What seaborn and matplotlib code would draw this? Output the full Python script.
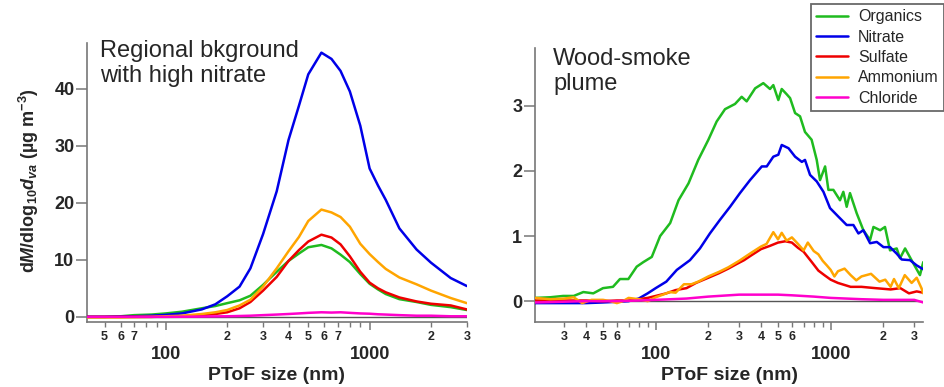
import numpy as np
import pandas as pd
import matplotlib
matplotlib.use("Agg")
import matplotlib.pyplot as plt
import matplotlib.ticker as mticker
import seaborn as sns

species = ["Organics", "Nitrate", "Sulfate", "Ammonium", "Chloride"]
colors = ["#1fbb1f", "#0000e8", "#ee0000", "#ffa500", "#ff00cc"]

# -------------------------------
# Regional background (left panel)
# -------------------------------
bk_size = [41, 50, 60, 70, 85, 100, 120, 150, 175, 200, 230, 260, 300, 350, 400,
           450, 500, 580, 650, 720, 800, 900, 1000, 1100, 1200, 1400, 1700, 2000, 2500, 3000]
bk_org = [0.0, 0.0, 0.1, 0.3, 0.4, 0.6, 0.9, 1.5, 1.9, 2.4, 2.9, 3.7, 5.6, 7.9, 9.8,
          11.1, 12.2, 12.6, 12.0, 10.9, 9.6, 7.5, 5.8, 4.8, 4.0, 3.1, 2.6, 2.1, 1.7, 1.2]
bk_no3 = [0.0, 0.0, 0.05, 0.1, 0.2, 0.35, 0.6, 1.3, 2.2, 3.6, 5.3, 8.5, 14.5, 22.0, 31.0,
          37.0, 42.5, 46.3, 45.2, 43.1, 39.5, 33.5, 26.0, 23.0, 20.5, 15.5, 11.8, 9.5, 6.8, 5.4]
bk_so4 = [0.0, 0.0, 0.0, 0.0, 0.0, 0.05, 0.1, 0.3, 0.5, 0.8, 1.5, 2.6, 4.6, 7.0, 9.8,
          11.7, 13.2, 14.4, 13.9, 12.7, 10.6, 7.9, 6.0, 5.0, 4.3, 3.4, 2.7, 2.3, 2.0, 1.3]
bk_nh4 = [-0.1, -0.1, -0.1, -0.05, 0.0, 0.1, 0.2, 0.5, 0.8, 1.2, 2.0, 3.0, 5.3, 8.5, 11.5,
          14.0, 16.8, 18.8, 18.3, 17.5, 15.8, 12.8, 11.0, 9.6, 8.4, 6.9, 5.7, 4.6, 3.3, 2.4]
bk_chl = [0.0, 0.0, 0.0, 0.0, 0.0, 0.0, 0.02, 0.05, 0.08, 0.1, 0.15, 0.2, 0.3, 0.4, 0.5,
          0.6, 0.7, 0.8, 0.75, 0.8, 0.7, 0.6, 0.55, 0.45, 0.4, 0.3, 0.2, 0.2, 0.1, 0.1]

# -------------------------------
# Wood-smoke plume (right panel)
# -------------------------------
ws_org_x = [20.5, 25, 29.6, 34, 38.6, 44, 50, 57, 62.5, 69.8, 77.9, 85, 95, 106, 121, 135, 154,
            175, 200, 223, 249, 284, 310, 331, 370, 412, 450, 470, 502, 525, 560, 586, 626, 668,
            713, 778, 832, 869, 929, 970, 1036, 1130, 1181, 1234, 1289, 1408, 1537, 1679, 1755,
            1916, 2043, 2183, 2383, 2490, 2661, 2967, 3236, 3380]
ws_org_y = [0.05, 0.06, 0.08, 0.08, 0.14, 0.12, 0.2, 0.22, 0.34, 0.34, 0.53, 0.6, 0.68, 1.0, 1.2,
            1.55, 1.81, 2.17, 2.48, 2.76, 2.95, 3.03, 3.14, 3.07, 3.27, 3.35, 3.26, 3.32, 3.09,
            3.26, 3.18, 3.12, 2.89, 2.84, 2.6, 2.48, 2.17, 1.86, 2.07, 1.71, 1.71, 1.55, 1.68,
            1.45, 1.66, 1.35, 1.09, 0.94, 1.14, 1.09, 1.14, 0.78, 0.81, 0.66, 0.81, 0.58, 0.4, 0.6]

ws_no3_x = [20.5, 30, 40, 50, 60, 70, 80, 90, 100, 115, 132, 157, 179, 204, 233, 266, 303, 346,
            404, 431, 470, 502, 525, 574, 626, 684, 713, 762, 832, 909, 991, 1105, 1234, 1348,
            1440, 1537, 1679, 1834, 2003, 2183, 2383, 2545, 2840, 3098, 3380]
ws_no3_y = [-0.03, -0.03, -0.03, -0.02, -0.01, 0.0, 0.04, 0.12, 0.2, 0.3, 0.48, 0.63, 0.81, 1.04,
            1.25, 1.45, 1.66, 1.86, 2.07, 2.07, 2.22, 2.25, 2.4, 2.35, 2.22, 2.14, 2.17, 1.94,
            1.84, 1.68, 1.43, 1.3, 1.17, 1.17, 1.04, 1.09, 0.89, 0.91, 0.83, 0.83, 0.73, 0.64,
            0.63, 0.55, 0.49]

ws_so4_x = [20.5, 30, 40, 50, 60, 70, 80, 90, 100, 115, 130, 150, 170, 200, 230, 260, 290, 320,
            350, 400, 450, 500, 550, 600, 650, 700, 780, 850, 920, 1000, 1100, 1300, 1500, 1800,
            2200, 2500, 2800, 3100, 3380]
ws_so4_y = [0.01, 0.01, 0.01, 0.0, 0.01, 0.01, 0.03, 0.05, 0.08, 0.12, 0.17, 0.2, 0.28, 0.36,
            0.43, 0.5, 0.57, 0.63, 0.7, 0.8, 0.85, 0.9, 0.92, 0.9, 0.82, 0.76, 0.6, 0.47, 0.4,
            0.33, 0.28, 0.22, 0.22, 0.2, 0.18, 0.2, 0.12, 0.15, 0.13]

ws_nh4_x = [20.5, 25, 30, 34, 38, 43, 50, 55, 60, 65, 70, 80, 90, 100, 110, 120, 130, 145, 160,
            175, 200, 230, 260, 300, 350, 400, 430, 470, 500, 525, 560, 600, 650, 700, 740, 800,
            850, 900, 950, 1000, 1050, 1100, 1200, 1300, 1400, 1500, 1700, 1900, 2050, 2200,
            2300, 2450, 2650, 2900, 3100, 3300, 3380]
ws_nh4_y = [0.05, 0.03, 0.04, 0.06, -0.03, 0.02, 0.02, 0.0, -0.03, 0.0, 0.05, 0.03, 0.0, 0.06,
            0.1, 0.14, 0.13, 0.26, 0.26, 0.3, 0.38, 0.45, 0.52, 0.62, 0.74, 0.84, 0.88, 1.06,
            0.95, 1.05, 0.93, 0.98, 0.88, 0.78, 0.9, 0.77, 0.72, 0.62, 0.55, 0.48, 0.38, 0.46,
            0.5, 0.4, 0.32, 0.38, 0.42, 0.3, 0.33, 0.22, 0.34, 0.2, 0.4, 0.28, 0.36, 0.2, 0.12]

ws_chl_x = [20.5, 40, 60, 80, 100, 150, 200, 300, 400, 500, 600, 800, 1000, 1500, 2000, 3000, 3380]
ws_chl_y = [-0.02, 0.0, 0.0, 0.01, 0.02, 0.04, 0.07, 0.1, 0.1, 0.1, 0.09, 0.07, 0.05, 0.03,
            0.02, 0.02, -0.02]

bk_minor_labels = [50, 60, 70, 200, 300, 400, 500, 600, 700, 2000, 3000]
ws_minor_labels = [30, 40, 50, 60, 200, 300, 400, 500, 600, 2000, 3000]


def long_frame(pairs):
    parts = []
    for name, (x, y) in zip(species, pairs):
        parts.append(pd.DataFrame({"size": x, "value": y, "species": name}))
    return pd.concat(parts, ignore_index=True)


bk_df = long_frame([(bk_size, bk_org), (bk_size, bk_no3), (bk_size, bk_so4),
                    (bk_size, bk_nh4), (bk_size, bk_chl)])
ws_df = long_frame([(ws_org_x, ws_org_y), (ws_no3_x, ws_no3_y), (ws_so4_x, ws_so4_y),
                    (ws_nh4_x, ws_nh4_y), (ws_chl_x, ws_chl_y)])

sns.set_style("ticks")
plt.rcParams["font.family"] = ["Liberation Sans", "DejaVu Sans"]
plt.rcParams["mathtext.fontset"] = "custom"
plt.rcParams["mathtext.rm"] = "Liberation Sans"
plt.rcParams["mathtext.it"] = "Liberation Sans:italic"
plt.rcParams["mathtext.bf"] = "Liberation Sans:bold"
plt.rcParams["mathtext.bfit"] = "Liberation Sans:bold:italic"

fig = plt.figure(figsize=(9.45, 3.87), dpi=100)
ax1 = fig.add_axes([0.092, 0.168, 0.402, 0.721])
ax2 = fig.add_axes([0.566, 0.168, 0.411, 0.708])


def minor_fmt(keep):
    def fmt(v, pos):
        for k in keep:
            if abs(v - k) / k < 1e-6:
                return str(int(round(v / 10 ** np.floor(np.log10(v) + 1e-9))))
        return ""
    return mticker.FuncFormatter(fmt)


def style_axis(ax, df, xlim, ylim, yticks, keep, legend):
    ax.axhline(0, color="#555555", lw=1.0, zorder=1)
    sns.lineplot(data=df, x="size", y="value", hue="species", hue_order=species,
                 palette=colors, estimator=None, sort=False, lw=1.8, ax=ax,
                 legend=legend, zorder=3)
    ax.set_xscale("log")
    ax.set_xlim(*xlim)
    ax.set_ylim(*ylim)
    ax.set_yticks(yticks)
    ax.xaxis.set_major_locator(mticker.FixedLocator([100, 1000]))
    ax.xaxis.set_major_formatter(mticker.FixedFormatter(["100", "1000"]))
    ax.xaxis.set_minor_locator(mticker.LogLocator(base=10, subs=np.arange(2, 10), numticks=20))
    ax.xaxis.set_minor_formatter(minor_fmt(keep))
    for s in ["top", "right"]:
        ax.spines[s].set_visible(False)
    for s in ["left", "bottom"]:
        ax.spines[s].set_color("#777777")
        ax.spines[s].set_linewidth(1.2)
    ax.tick_params(axis="x", which="major", length=6, width=1.1, color="#777777",
                   pad=11, labelsize=13)
    ax.tick_params(axis="x", which="minor", length=3.5, width=1.0, color="#777777",
                   pad=3, labelsize=9)
    ax.tick_params(axis="y", length=8, width=1.1, color="#777777", pad=1, labelsize=13)
    for lab in ax.get_xticklabels(which="both") + ax.get_yticklabels():
        lab.set_fontweight("bold")
    ax.set_xlabel("PToF size (nm)", fontsize=14, fontweight="bold", labelpad=3)
    ax.set_ylabel("")


style_axis(ax1, bk_df, (41, 3000), (-0.9, 48), [0, 10, 20, 30, 40], bk_minor_labels, False)
style_axis(ax2, ws_df, (20.4, 3380), (-0.32, 3.89), [0, 1, 2, 3], ws_minor_labels, True)

handles, labels = ax2.get_legend_handles_labels()
ax2.get_legend().remove()
leg = fig.legend(handles, labels, loc="upper right", bbox_to_anchor=(0.999, 0.99),
                 fontsize=11.5, frameon=True, fancybox=False, handlelength=2.0,
                 labelspacing=0.33, borderpad=0.35, handletextpad=0.6, borderaxespad=0)
leg.get_frame().set_edgecolor("#444444")
leg.get_frame().set_linewidth(1.3)

fig.text(100 / 945, 1 - 40 / 387, "Regional bkground\nwith high nitrate", fontsize=17,
         va="top", ha="left", linespacing=1.15)
fig.text(553 / 945, 1 - 48 / 387, "Wood-smoke\nplume", fontsize=17,
         va="top", ha="left", linespacing=1.15)

fig.text(29 / 945, 1 - 181 / 387,
         r"d$\mathbfit{M}$/dlog$_{\mathbf{10}}$$\mathbfit{d}_{\mathbfit{va}}$ (µg m$^{\mathbf{-3}}$)",
         rotation=90, ha="center", va="center", fontsize=13, fontweight="bold")

fig.savefig("out.png", dpi=100)
